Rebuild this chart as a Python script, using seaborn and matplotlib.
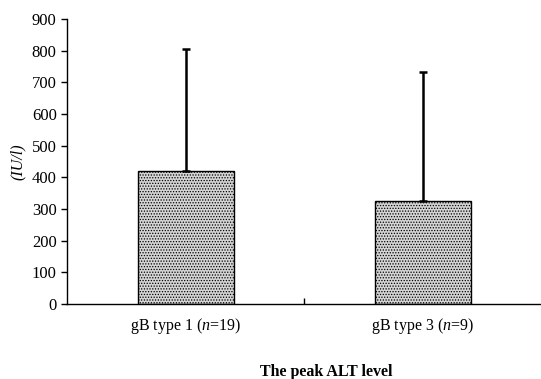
import numpy as np
import pandas as pd
import matplotlib.pyplot as plt
import seaborn as sns

groups = ["gB type 1 ($n$=19)", "gB type 3 ($n$=9)"]
peak_alt = [419, 325]
sd_upper = [386, 408]

df = pd.DataFrame({"group": groups, "alt": peak_alt})

sns.set_style("ticks")
plt.rcParams["font.family"] = ["Liberation Serif", "DejaVu Serif"]
plt.rcParams["mathtext.fontset"] = "custom"
plt.rcParams["mathtext.it"] = "Liberation Serif:italic"
plt.rcParams["mathtext.rm"] = "Liberation Serif"
plt.rcParams["text.color"] = "black"
plt.rcParams["xtick.color"] = "black"
plt.rcParams["ytick.color"] = "black"
plt.rcParams["axes.labelcolor"] = "black"
plt.rcParams["axes.edgecolor"] = "black"
plt.rcParams["hatch.color"] = "#8a8a8a"
plt.rcParams["hatch.linewidth"] = 0.6

fig = plt.figure(figsize=(5.41, 3.79), dpi=100)
ax = fig.add_axes([0.124, 0.198, 0.876, 0.752])

sns.barplot(data=df, x="group", y="alt", ax=ax, width=0.405,
            color="#d4d4d4", edgecolor="black", linewidth=1.0,
            hatch="......", saturation=1)

ax.errorbar(range(len(groups)), peak_alt,
            yerr=[np.zeros(len(groups)), sd_upper],
            fmt="none", ecolor="black", elinewidth=1.8, capsize=3, capthick=1.8)

ax.set_ylim(0, 900)
ax.set_xlim(-0.5, 1.5)
ax.set_yticks(range(0, 901, 100))
ax.set_ylabel("(IU/l)", fontstyle="italic", fontsize=11.5, labelpad=4)
ax.set_xlabel("")
fig.text(0.603, 0.018, "The peak ALT level", fontweight="bold", fontsize=11.5,
         ha="center", va="center")

ax.tick_params(axis="y", labelsize=12, length=4, width=1, direction="out")
ax.tick_params(axis="x", labelsize=11.5, length=0, pad=9)
ax.set_xticks([0.5], minor=True)
ax.tick_params(axis="x", which="minor", length=4, width=1, direction="in")

sns.despine(ax=ax)
for s in ["left", "bottom"]:
    ax.spines[s].set_linewidth(1.0)

fig.savefig("out.png", dpi=100)
